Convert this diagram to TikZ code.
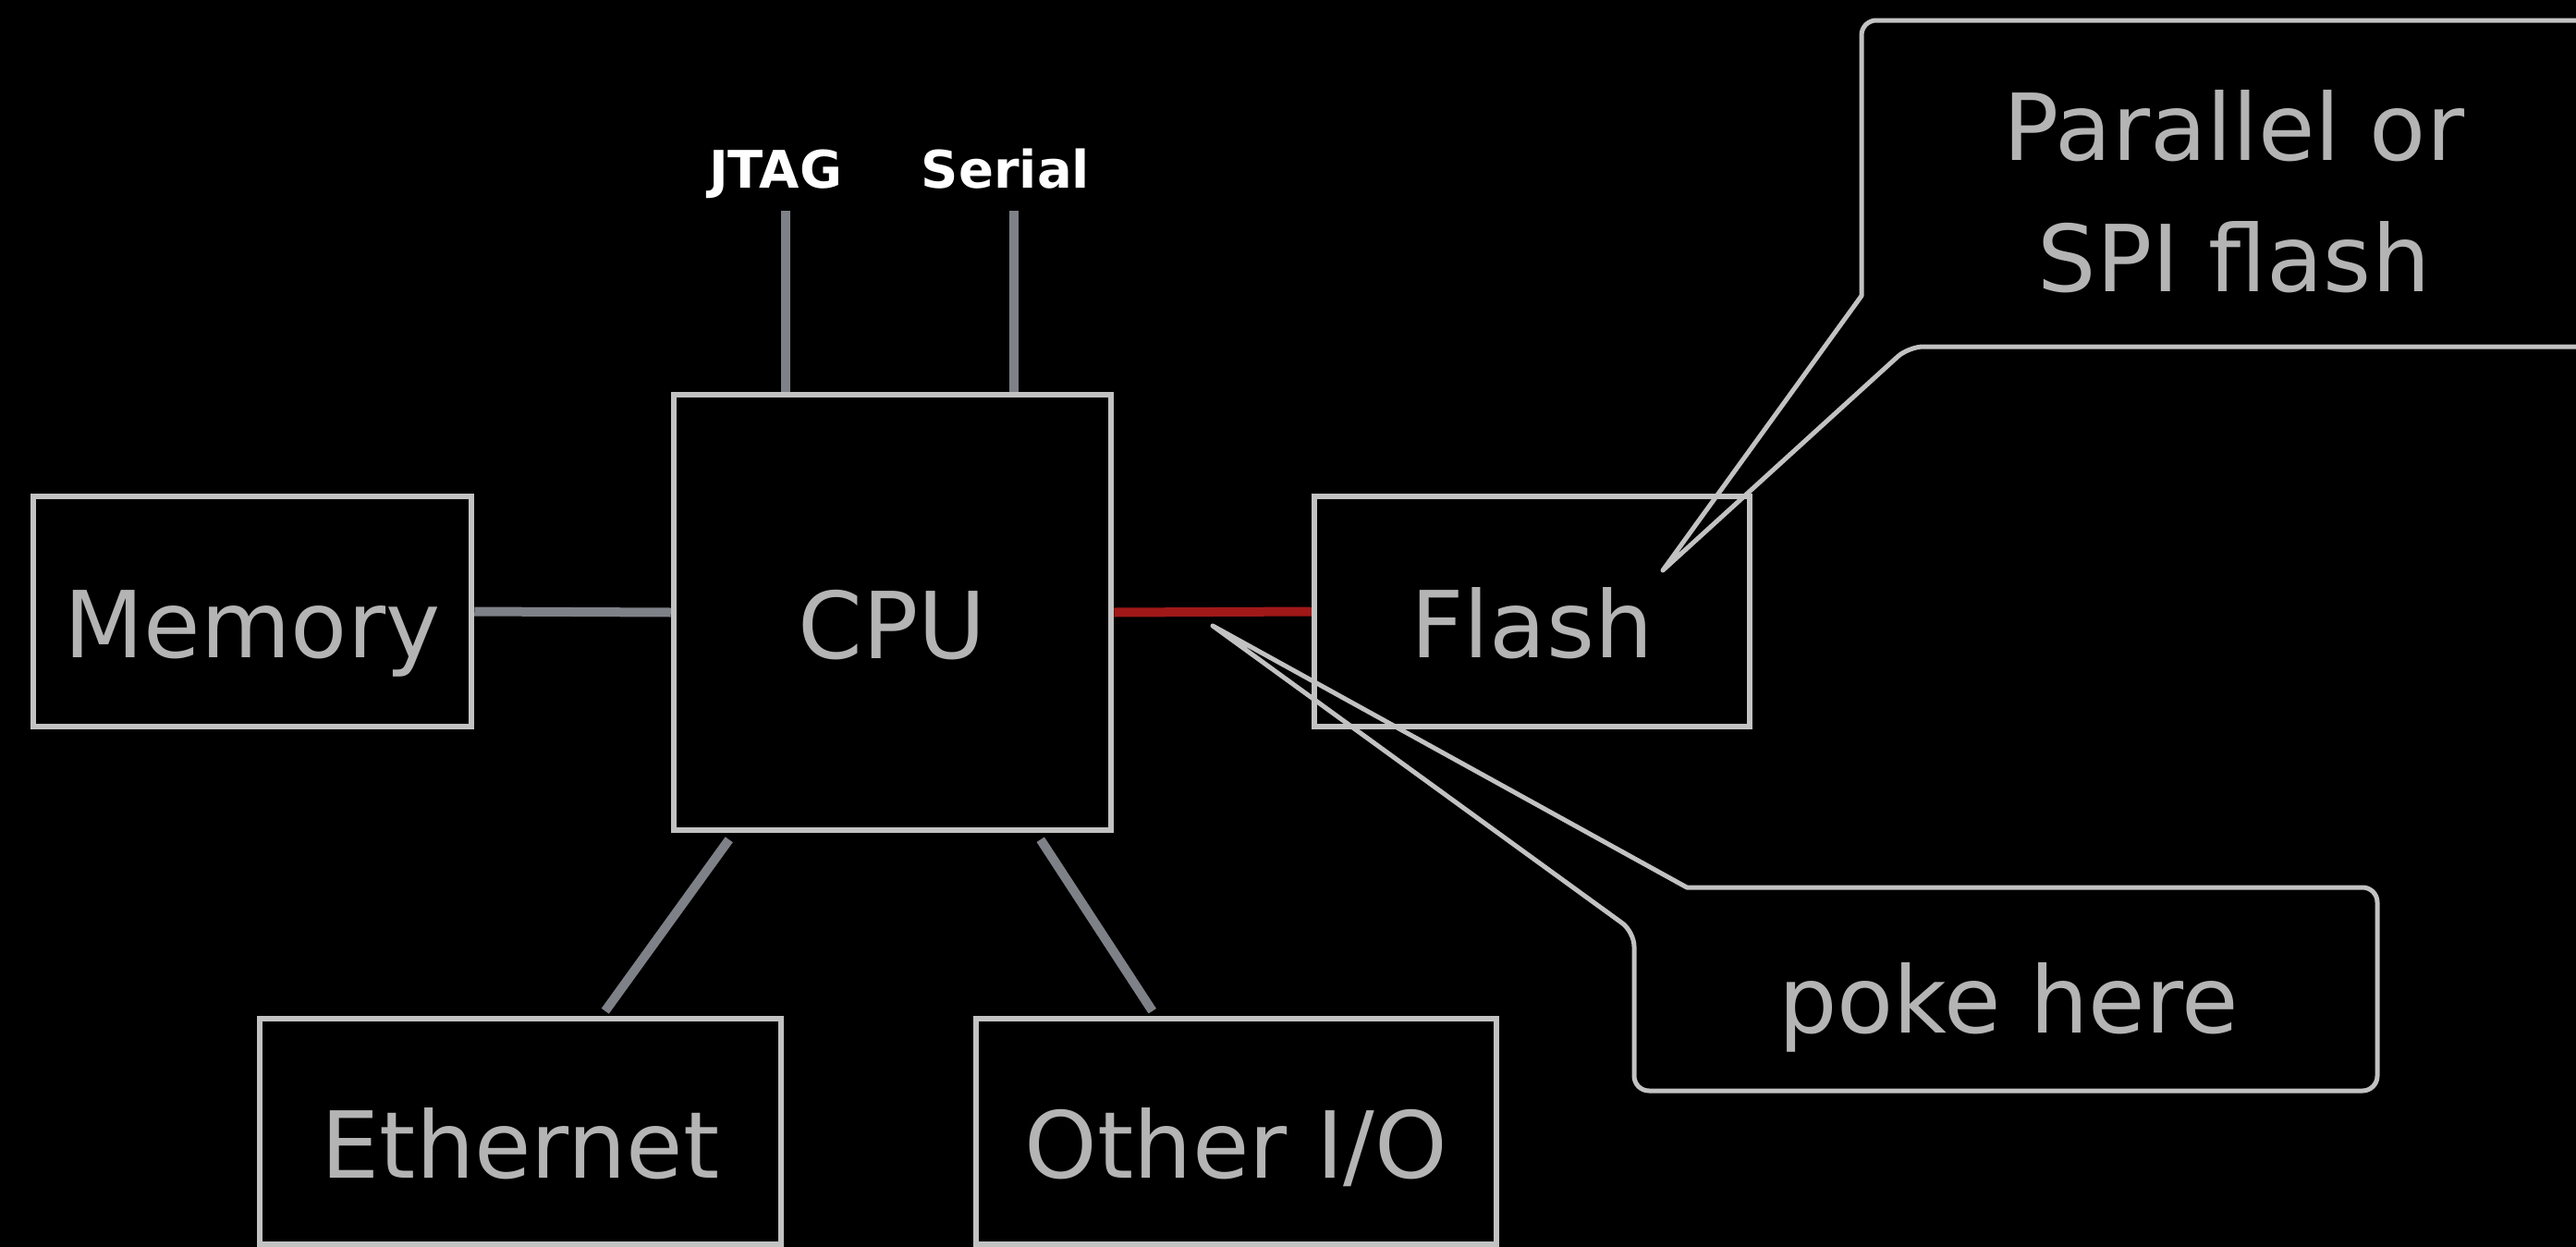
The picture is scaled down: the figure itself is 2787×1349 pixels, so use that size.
\documentclass[tikz,border=0pt]{standalone}
\usepackage{fontspec}
\setmainfont{DejaVu Sans}
\usetikzlibrary{calc}
\definecolor{chalk}{HTML}{C2C2C2}
\definecolor{chalktext}{HTML}{B4B4B4}
\definecolor{wire}{HTML}{7E8187}
\definecolor{redwire}{HTML}{A01818}
\begin{document}
\begin{tikzpicture}[x=1pt,y=-1pt,
  box/.style={draw=chalk, line width=6.5pt, inner sep=0pt, text=chalktext,
    font=\fontsize{100}{120}\selectfont, text height=100pt, text depth=0pt},
  wireline/.style={draw=wire, line width=10pt},
  hotline/.style={draw=redwire, line width=10pt},
  callout/.style={draw=chalk, line width=5pt, line join=round},
  bigtext/.style={text=chalktext, font=\fontsize{100}{120}\selectfont, inner sep=0pt, anchor=base},
  smalltext/.style={text=white, font=\bfseries\fontsize{56}{60}\selectfont, inner sep=0pt, anchor=base}]
\fill[black] (0,0) rectangle (2787,1349);
\useasboundingbox (0,0) rectangle (2787,1349);
\clip (0,0) rectangle (2787,1349);

% boxes
\node[box, minimum width=474pt, minimum height=249pt] (mem) at (273,661.5) {Memory};
\node[box, minimum width=473pt, minimum height=471pt] (cpu) at (965.5,662.5) {CPU};
\node[box, minimum width=471pt, minimum height=249pt] (flash) at (1657.5,661.5) {Flash};
\node[box, minimum width=564pt, minimum height=244pt] (eth) at (563,1224) {Ethernet};
\node[box, minimum width=563pt, minimum height=244pt] (oio) at (1337.5,1224) {Other I/O};

% labels above CPU
\node[smalltext] (jtag) at (839,203) {JTAG};
\node[smalltext] (serial) at (1088,203) {Serial};
\coordinate (jtagend) at (850,228);
\coordinate (serialend) at (1097,228);

% connectors
\draw[wireline] (jtagend) -- (jtagend |- cpu.north);
\draw[wireline] (serialend) -- (serialend |- cpu.north);
\draw[wireline] (mem.east) -- (cpu.west);
\draw[hotline] (cpu.east) -- (flash.west);
\draw[wireline] ([xshift=63pt,yshift=-7pt]cpu.south west) -- ([xshift=377pt,yshift=5pt]eth.north west);
\draw[wireline] ([xshift=400pt,yshift=-7pt]cpu.south west) -- ([xshift=194pt,yshift=5pt]oio.north west);

% callout: Parallel or SPI flash
\coordinate (tipA) at (1799,617);
\draw[callout] (tipA) -- (2014,320) [rounded corners=16pt] -- (2014,22) -- (2840,22)
  -- (2840,375) -- (2065,375) [sharp corners] -- cycle;
\node[bigtext] (par1) at (2417,173) {Parallel or};
\node[bigtext] (par2) at (2417,315) {SPI flash};

% callout: poke here
\coordinate (tipB) at (1312,677);
\draw[callout] (tipB) -- (1825,960) [rounded corners=16pt] -- (2572,960) -- (2572,1180)
  -- (1768,1180) -- (1768,1008) [sharp corners] -- cycle;
\node[bigtext] (poke) at (2173,1117) {poke here};
\end{tikzpicture}
\end{document}
